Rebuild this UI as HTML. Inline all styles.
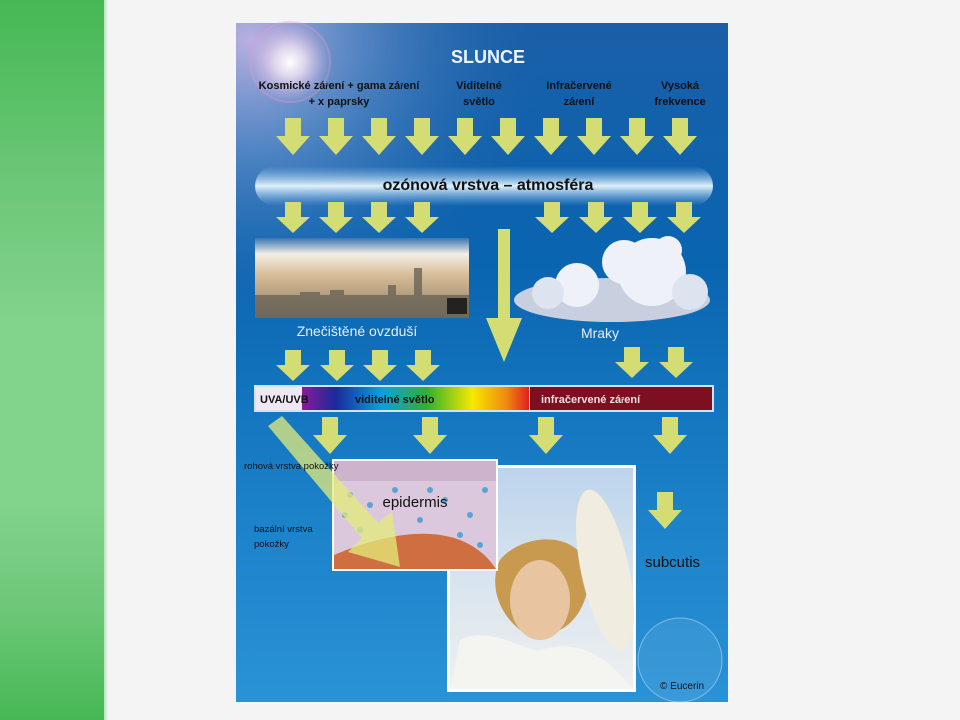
<!DOCTYPE html>
<html><head><meta charset="utf-8"><style>
html,body{margin:0;padding:0}
body{width:960px;height:720px;background:#f4f4f4;position:relative;overflow:hidden;font-family:"Liberation Sans",Arial,sans-serif}
#g{position:absolute;left:0;top:0;width:106px;height:720px;background:linear-gradient(#45b853 0%,#6cc778 25%,#82d38b 45%,#82d38b 70%,#6cc778 85%,#45b853 100%)}
#g2{position:absolute;left:104px;top:0;width:4px;height:720px;background:linear-gradient(90deg,#b5e2b9,#f4f4f4)}
</style></head><body>
<div id="g"></div><div id="g2"></div>
<svg style="position:absolute;left:0;top:0" width="960" height="720" viewBox="0 0 960 720" font-family="Liberation Sans, Arial, sans-serif">
<defs>
<linearGradient id="bg" x1="0" y1="0" x2="0" y2="1">
<stop offset="0" stop-color="#1a5fa8"/><stop offset="0.35" stop-color="#0a64b0"/><stop offset="0.7" stop-color="#1a80c8"/><stop offset="1" stop-color="#2a92d6"/></linearGradient>
<radialGradient id="bgl" gradientUnits="userSpaceOnUse" cx="250" cy="40" r="300">
<stop offset="0" stop-color="#c4b4e4" stop-opacity="0.95"/><stop offset="0.35" stop-color="#8aa6d8" stop-opacity="0.55"/><stop offset="1" stop-color="#1a5fa8" stop-opacity="0"/></radialGradient>
<radialGradient id="sun" cx="0.5" cy="0.5" r="0.5"><stop offset="0" stop-color="#fff"/><stop offset="0.35" stop-color="#f4e6f4" stop-opacity="0.8"/><stop offset="1" stop-color="#e0b0e0" stop-opacity="0"/></radialGradient>
<linearGradient id="oz" x1="0" y1="0" x2="0" y2="1"><stop offset="0" stop-color="#8fc0ea" stop-opacity="0"/><stop offset="0.5" stop-color="#e0f0fb"/><stop offset="1" stop-color="#8fc0ea" stop-opacity="0"/></linearGradient>
<linearGradient id="haze" x1="0" y1="0" x2="0" y2="1"><stop offset="0" stop-color="#3a74b0"/><stop offset="0.2" stop-color="#f2eee6"/><stop offset="0.45" stop-color="#d9bf9a"/><stop offset="1" stop-color="#8a7a60"/></linearGradient>
<linearGradient id="spec" x1="0" y1="0" x2="1" y2="0">
<stop offset="0" stop-color="#8a1a9a"/><stop offset="0.15" stop-color="#1a2a9a"/><stop offset="0.35" stop-color="#0aa0e0"/><stop offset="0.55" stop-color="#30b030"/><stop offset="0.75" stop-color="#f8e800"/><stop offset="0.9" stop-color="#f08a10"/><stop offset="1" stop-color="#e02020"/></linearGradient>
<linearGradient id="photo" x1="0" y1="0" x2="0" y2="1"><stop offset="0" stop-color="#bcd4ec"/><stop offset="0.5" stop-color="#d8e4ee"/><stop offset="1" stop-color="#eef0f0"/></linearGradient>
<polygon id="a" points="-8,0 8,0 8,18 17,18 0,37 -17,18 -8,18" fill="#d4dc74"/>
<polygon id="b" points="-8,0 8,0 8,15 17,15 0,31 -17,15 -8,15" fill="#d4dc74"/>
</defs>
<rect x="236" y="23" width="492" height="679" fill="url(#bg)"/>
<rect x="236" y="23" width="492" height="679" fill="url(#bgl)"/>
<circle cx="290" cy="62" r="42" fill="url(#sun)"/>
<circle cx="290" cy="62" r="40" fill="none" stroke="#e49ac8" stroke-opacity="0.35" stroke-width="2"/>
<text x="488" y="63" font-size="18" font-weight="bold" fill="#eef4fa" text-anchor="middle">SLUNCE</text>
<g font-size="11" font-weight="bold" fill="#111" text-anchor="middle">
<text x="339" y="89">Kosmické zá<tspan font-size="8">ř</tspan>ení + gama zá<tspan font-size="8">ř</tspan>ení</text><text x="339" y="105">+ x paprsky</text>
<text x="479" y="89">Viditelné</text><text x="479" y="105">světlo</text>
<text x="579" y="89">Infračervené</text><text x="579" y="105">zá<tspan font-size="8">ř</tspan>ení</text>
<text x="680" y="89">Vysoká</text><text x="680" y="105">frekvence</text></g>
<g><use href="#a" x="293" y="118"/><use href="#a" x="336" y="118"/><use href="#a" x="379" y="118"/><use href="#a" x="422" y="118"/><use href="#a" x="465" y="118"/><use href="#a" x="508" y="118"/><use href="#a" x="551" y="118"/><use href="#a" x="594" y="118"/><use href="#a" x="637" y="118"/><use href="#a" x="680" y="118"/></g>
<rect x="255" y="166" width="458" height="40" rx="20" fill="url(#oz)"/>
<text x="488" y="190" font-size="16" font-weight="bold" fill="#111" text-anchor="middle">ozónová vrstva – atmosféra</text>
<g><use href="#b" x="293" y="202"/><use href="#b" x="336" y="202"/><use href="#b" x="379" y="202"/><use href="#b" x="422" y="202"/><use href="#b" x="552" y="202"/><use href="#b" x="596" y="202"/><use href="#b" x="640" y="202"/><use href="#b" x="684" y="202"/></g>
<rect x="255" y="238" width="214" height="80" fill="url(#haze)"/>
<g fill="#6a6458" opacity="0.8"><rect x="414" y="268" width="8" height="40"/><rect x="388" y="285" width="8" height="25"/><rect x="300" y="292" width="20" height="20"/><rect x="330" y="290" width="14" height="22"/><rect x="255" y="295" width="214" height="23"/></g>
<rect x="447" y="298" width="20" height="16" fill="#222"/>
<text x="357" y="336" font-size="14" fill="#e6eef8" text-anchor="middle">Znečištěné ovzduší</text>
<polygon points="498,229 510,229 510,318 522,318 504,362 486,318 498,318" fill="#d4dc74"/>
<g fill="#eef2f8"><ellipse cx="612" cy="300" rx="98" ry="22" fill="#c8d0e0"/><circle cx="652" cy="272" r="34"/><circle cx="624" cy="262" r="22"/><circle cx="577" cy="285" r="22"/><circle cx="548" cy="293" r="16" fill="#dde4f0"/><circle cx="690" cy="292" r="18" fill="#dde4f0"/><circle cx="668" cy="250" r="14"/></g>
<text x="600" y="338" font-size="14" fill="#e6eef8" text-anchor="middle">Mraky</text>
<g><use href="#b" x="293" y="350"/><use href="#b" x="337" y="350"/><use href="#b" x="380" y="350"/><use href="#b" x="423" y="350"/><use href="#b" x="632" y="347"/><use href="#b" x="676" y="347"/></g>
<rect x="254" y="385" width="460" height="27" fill="#e8eef6" opacity="0.9"/>
<rect x="256" y="387" width="46" height="23" fill="#efe8f4"/>
<rect x="302" y="387" width="227" height="23" fill="url(#spec)"/>
<rect x="530" y="387" width="182" height="23" fill="#7c0f20"/>
<text x="260" y="403" font-size="11" font-weight="bold" fill="#111">UVA/UVB</text>
<text x="355" y="403" font-size="11" font-weight="bold" fill="#111">viditelné světlo</text>
<text x="541" y="403" font-size="11" font-weight="bold" fill="#f0e0e0">infračervené zá<tspan font-size="8">ř</tspan>ení</text>
<g><use href="#a" x="330" y="417"/><use href="#a" x="430" y="417"/><use href="#a" x="546" y="417"/><use href="#a" x="670" y="417"/></g>
<use href="#a" x="665" y="492"/>
<rect x="447" y="465" width="189" height="227" fill="#fff"/>
<rect x="450" y="468" width="183" height="221" fill="url(#photo)"/>
<path d="M500 560 C520 535 570 530 585 560 C595 590 580 620 560 630 L520 630 C495 610 490 580 500 560Z" fill="#c89a50"/>
<ellipse cx="540" cy="600" rx="30" ry="40" fill="#e8c4a0"/>
<path d="M450 689 L460 640 C490 625 520 650 540 650 C570 640 600 650 625 680 L633 689Z" fill="#f4f4f0"/>
<ellipse cx="605" cy="570" rx="24" ry="82" fill="#f0ece0" transform="rotate(-12 605 570)"/>
<rect x="332" y="459" width="166" height="112" fill="#fff"/>
<rect x="334" y="461" width="162" height="108" fill="#dcc8dc"/>
<rect x="334" y="461" width="162" height="20" fill="#cdb4cc"/>
<g fill="#3a9ad0" opacity="0.8"><circle cx="350" cy="495" r="3"/><circle cx="370" cy="505" r="3"/><circle cx="395" cy="490" r="3"/><circle cx="420" cy="520" r="3"/><circle cx="445" cy="500" r="3"/><circle cx="470" cy="515" r="3"/><circle cx="485" cy="490" r="3"/><circle cx="360" cy="530" r="3"/><circle cx="460" cy="535" r="3"/><circle cx="480" cy="545" r="3"/><circle cx="430" cy="490" r="3"/><circle cx="345" cy="515" r="3"/></g>
<path d="M334 569 L334 555 C370 540 420 525 460 540 C480 548 490 560 496 569Z" fill="#cf6e40"/>
<text x="415" y="507" font-size="15" fill="#111" text-anchor="middle">epidermis</text>
<polygon points="268,426 282,416 378,523 392,512 400,567 348,552 362,538" fill="#e4ec7a" opacity="0.75"/>
<text x="244" y="469" font-size="9.5" fill="#111">rohová vrstva pokožky</text>
<text x="254" y="532" font-size="9.5" fill="#111">bazální vrstva</text>
<text x="254" y="547" font-size="9.5" fill="#111">pokožky</text>
<text x="645" y="567" font-size="15" fill="#111">subcutis</text>
<circle cx="680" cy="660" r="42" fill="#ffffff" fill-opacity="0.08" stroke="#cfe6f8" stroke-opacity="0.5"/>
<text x="660" y="689" font-size="10" fill="#111">© Eucerin</text>
</svg>
</body></html>
